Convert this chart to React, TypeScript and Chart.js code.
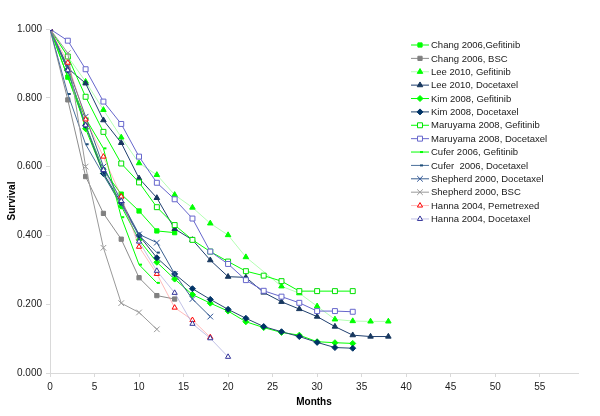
import React, { useEffect, useRef } from "react";
import { Chart, registerables } from "chart.js";
import { drawPoint } from "chart.js/helpers";

Chart.register(...registerables);

// months at which the survival values were read (every 2 months)
const months = [0, 2, 4, 6, 8, 10, 12, 14, 16, 18, 20, 22, 24, 26, 28, 30, 32, 34, 36, 38];

const changGefitinib = [1, 0.86, 0.72, 0.59, 0.52, 0.471, 0.413, 0.408];
const changBSC = [1, 0.794, 0.571, 0.464, 0.389, 0.277, 0.225, 0.215];
const leeGefitinib = [1, 0.92, 0.847, 0.765, 0.685, 0.61, 0.576, 0.518, 0.481, 0.435, 0.401, 0.337, null, 0.252, 0.232, 0.194, 0.156, 0.151, 0.15, 0.15];
const leeDocetaxel = [1, 0.886, 0.842, 0.735, 0.669, 0.566, 0.509, 0.419, 0.387, 0.328, 0.28, 0.278, 0.234, 0.207, 0.186, 0.164, 0.135, 0.11, 0.106, 0.106];
const kimGefitinib = [1, 0.88, 0.71, 0.58, 0.485, 0.387, 0.322, 0.273, 0.228, 0.203, 0.18, 0.149, 0.132, 0.118, 0.11, 0.091, 0.088, 0.086];
const kimDocetaxel = [1, 0.88, 0.72, 0.58, 0.495, 0.4, 0.335, 0.288, 0.245, 0.214, 0.185, 0.159, 0.135, 0.12, 0.106, 0.089, 0.074, 0.072];
const maruyamaGefitinib = [1, 0.92, 0.803, 0.701, 0.609, 0.554, 0.482, 0.43, 0.387, 0.353, 0.324, 0.296, 0.283, 0.267, 0.238, 0.238, 0.238, 0.238];
const maruyamaDocetaxel = [1, 0.966, 0.883, 0.789, 0.724, 0.629, 0.553, 0.505, 0.449, 0.353, 0.317, 0.27, 0.239, 0.222, 0.204, 0.18, 0.18, 0.178];
const cuferGefitinib = [1, 0.86, 0.74, 0.653, 0.453, 0.315, 0.262];
const cuferDocetaxel = [1, 0.811, 0.665, 0.575, 0.49, 0.4, 0.35];
const shepherdDocetaxel = [1, 0.89, 0.745, 0.6, 0.5, 0.403, 0.379, 0.288, 0.215, 0.164];
const shepherdBSC = [1, 0.93, 0.6, 0.364, 0.203, 0.176, 0.127];
const hannaPemetrexed = [1, 0.902, 0.737, 0.629, 0.513, 0.367, 0.288, 0.19, 0.154, 0.104];
const hannaDocetaxel = [1, 0.88, 0.72, 0.59, 0.5, 0.382, 0.297, 0.233, 0.143, 0.101, 0.047];

const xTicks = [0, 5, 10, 15, 20, 25, 30, 35, 40, 45, 50, 55];
const yTicks = [0, 0.2, 0.4, 0.6, 0.8, 1.0];

const FONT = "'Liberation Sans', Arial, sans-serif";

function toPoints(values: (number | null)[]) {
  const pts: { x: number; y: number }[] = [];
  values.forEach((v, i) => {
    if (v !== null && v !== undefined) pts.push({ x: months[i], y: v });
  });
  return pts;
}

type SeriesDef = {
  label: string;
  values: (number | null)[];
  line: string;
  lineWidth: number;
  marker: string;
  fill: string;
  border: string;
  radius: number;
  markerWidth: number;
};

const series: SeriesDef[] = [
  { label: "Chang 2006,Gefitinib", values: changGefitinib, line: "#00FF00", lineWidth: 1, marker: "rect", fill: "#00FF00", border: "#00FF00", radius: 3, markerWidth: 1 },
  { label: "Chang 2006, BSC", values: changBSC, line: "#8C8C8C", lineWidth: 1, marker: "rect", fill: "#808080", border: "#808080", radius: 3, markerWidth: 1 },
  { label: "Lee 2010, Gefitinib", values: leeGefitinib, line: "rgba(0,255,0,0.3)", lineWidth: 1, marker: "triangle", fill: "#00FF00", border: "#00FF00", radius: 3.2, markerWidth: 1 },
  { label: "Lee 2010, Docetaxel", values: leeDocetaxel, line: "#1F3F6F", lineWidth: 1, marker: "triangle", fill: "#17375E", border: "#17375E", radius: 3.2, markerWidth: 1 },
  { label: "Kim 2008, Gefitinib", values: kimGefitinib, line: "#00FF00", lineWidth: 1, marker: "rectRot", fill: "#00FF00", border: "#00FF00", radius: 3, markerWidth: 1 },
  { label: "Kim 2008, Docetaxel", values: kimDocetaxel, line: "#24466E", lineWidth: 1, marker: "rectRot", fill: "#003366", border: "#003366", radius: 3, markerWidth: 1 },
  { label: "Maruyama 2008, Gefitinib", values: maruyamaGefitinib, line: "#00FF00", lineWidth: 1, marker: "rect", fill: "#FFFFFF", border: "#00E000", radius: 3.5, markerWidth: 1 },
  { label: "Maruyama 2008, Docetaxel", values: maruyamaDocetaxel, line: "#6666CC", lineWidth: 1, marker: "rect", fill: "#FFFFFF", border: "#6666CC", radius: 3.5, markerWidth: 1 },
  { label: "Cufer 2006, Gefitinib", values: cuferGefitinib, line: "#00FF00", lineWidth: 1, marker: "dash", fill: "#00FF00", border: "#00FF00", radius: 3, markerWidth: 2 },
  { label: "Cufer  2006, Docetaxel", values: cuferDocetaxel, line: "#4A6F9A", lineWidth: 1, marker: "dash", fill: "#1F4E79", border: "#1F4E79", radius: 3, markerWidth: 2 },
  { label: "Shepherd 2000, Docetaxel", values: shepherdDocetaxel, line: "#3A5F8F", lineWidth: 1, marker: "crossRot", fill: "#2F5597", border: "#2F5597", radius: 4, markerWidth: 1 },
  { label: "Shepherd 2000, BSC", values: shepherdBSC, line: "#999999", lineWidth: 1, marker: "crossRot", fill: "#999999", border: "#999999", radius: 4, markerWidth: 1 },
  { label: "Hanna 2004, Pemetrexed", values: hannaPemetrexed, line: "rgba(255,120,120,0.5)", lineWidth: 1, marker: "triangle", fill: "#FFFFFF", border: "#FF0000", radius: 3, markerWidth: 1 },
  { label: "Hanna 2004, Docetaxel", values: hannaDocetaxel, line: "rgba(120,120,200,0.45)", lineWidth: 1, marker: "triangle", fill: "#FFFFFF", border: "#333399", radius: 3, markerWidth: 1 },
];

const excelLegend = {
  id: "excelLegend",
  afterDraw(chart: any) {
    const ctx = chart.ctx as CanvasRenderingContext2D;
    ctx.save();
    ctx.font = `9.5px ${FONT}`;
    ctx.textBaseline = "middle";
    ctx.textAlign = "left";
    const x0 = 411;
    const y0 = 45;
    const dy = 13.38;
    series.forEach((s, i) => {
      const y = y0 + i * dy;
      ctx.strokeStyle = s.line;
      ctx.lineWidth = s.lineWidth;
      ctx.beginPath();
      ctx.moveTo(x0, y);
      ctx.lineTo(x0 + 18, y);
      ctx.stroke();
      ctx.fillStyle = s.fill;
      ctx.strokeStyle = s.border;
      ctx.lineWidth = s.markerWidth;
      drawPoint(ctx, { pointStyle: s.marker as any, rotation: 0, radius: s.radius, borderWidth: s.markerWidth }, x0 + 9, y);
      ctx.fillStyle = "#1a1a1a";
      ctx.fillText(s.label, x0 + 20, y + 0.5);
    });
    ctx.restore();
  },
};

export default function App() {
  const ref = useRef<HTMLCanvasElement | null>(null);
  useEffect(() => {
    if (!ref.current) return;
    const n = series.length;
    const chart = new Chart(ref.current, {
      type: "line",
      data: {
        datasets: series.map((s, i) => ({
          label: s.label,
          data: toPoints(s.values),
          borderColor: s.line,
          borderWidth: s.lineWidth,
          backgroundColor: s.fill,
          pointStyle: s.marker as any,
          pointRadius: s.radius,
          pointBackgroundColor: s.fill,
          pointBorderColor: s.border,
          pointBorderWidth: s.markerWidth,
          tension: 0,
          fill: false,
          order: n - i,
        })),
      },
      options: {
        responsive: false,
        animation: false,
        events: [],
        layout: { padding: { top: 29, right: 22, left: 0, bottom: 0 } },
        plugins: {
          legend: { display: false },
          tooltip: { enabled: false },
        },
        scales: {
          x: {
            type: "linear",
            min: 0,
            max: 59.3,
            afterBuildTicks: (scale: any) => {
              scale.ticks = xTicks.map((v) => ({ value: v }));
            },
            afterFit: (scale: any) => {
              scale.height = 43;
            },
            grid: { drawOnChartArea: false, drawTicks: true, tickLength: 4, color: "#D9D9D9" },
            border: { color: "#D9D9D9", width: 1 },
            ticks: {
              font: { family: FONT, size: 10 },
              color: "#1a1a1a",
              padding: 4,
              maxRotation: 0,
              autoSkip: false,
              callback: (v: any) => String(v),
            },
            title: {
              display: true,
              text: "Months",
              font: { family: FONT, size: 10, weight: "bold" },
              color: "#000",
              padding: { top: 0, bottom: 8 },
            },
          },
          y: {
            min: 0,
            max: 1,
            afterBuildTicks: (scale: any) => {
              scale.ticks = yTicks.map((v) => ({ value: v }));
            },
            afterFit: (scale: any) => {
              scale.width = 50;
            },
            grid: { drawOnChartArea: false, drawTicks: true, tickLength: 4, color: "#D9D9D9" },
            border: { color: "#D9D9D9", width: 1 },
            ticks: {
              font: { family: FONT, size: 10 },
              color: "#1a1a1a",
              padding: 4,
              callback: (v: any) => Number(v).toFixed(3),
            },
            title: {
              display: true,
              text: "Survival",
              font: { family: FONT, size: 10, weight: "bold" },
              color: "#000",
              padding: { top: 6, bottom: 0 },
            },
          },
        },
      },
      plugins: [excelLegend],
    });
    return () => chart.destroy();
  }, []);
  return (
    <div style={{ position: "absolute", left: 0, top: 0, width: 600, height: 416, background: "#fff" }}>
      <canvas ref={ref} width={600} height={416} style={{ display: "block", width: 600, height: 416 }} />
    </div>
  );
}
